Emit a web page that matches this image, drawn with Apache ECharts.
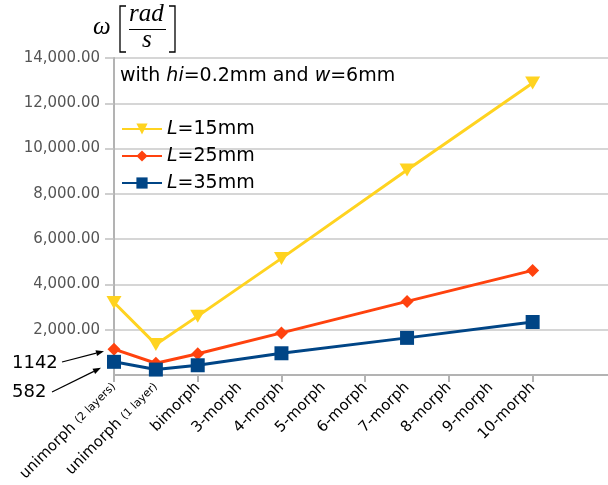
<!DOCTYPE html>
<html>
<head>
<meta charset="utf-8">
<script src="https://cdn.jsdelivr.net/npm/echarts@6/dist/echarts.min.js"></script>
<style>
  html, body { margin: 0; padding: 0; background: #ffffff; }
  #chart { width: 608px; height: 485px; }
</style>
</head>
<body>
<div id="chart"></div>
<script>
// Configurations along the x axis
const categories = [
  'unimorph (2 layers)', 'unimorph (1 layer)', 'bimorph', '3-morph', '4-morph',
  '5-morph', '6-morph', '7-morph', '8-morph', '9-morph', '10-morph'
];

// Angular frequency ω [rad/s] for each beam length (null = not computed)
const omegaL15 = [3200, 1350, 2600, null, 5150, null, null, 9050, null, null, 12900];
const omegaL25 = [1142, 520, 940, null, 1860, null, null, 3250, null, null, 4620];
const omegaL35 = [582, 240, 430, null, 960, null, null, 1640, null, null, 2340];

const seriesNames = ['L=15mm', 'L=25mm', 'L=35mm'];
const seriesColors = ['#ffd320', '#ff420e', '#004586'];

const yTicks = { min: 0, max: 14000, step: 2000 };

const chart = echarts.init(document.getElementById('chart'), null, { renderer: 'canvas' });

function fmtThousands(v) {
  const s = Math.round(v).toString().replace(/\B(?=(\d{3})+(?!\d))/g, ',');
  return s + '.00';
}

function catLabel(name) {
  const m = name.match(/^(.*?)\s(\(.*\))$/);
  if (m) return '{b|' + m[1] + ' }{s|' + m[2] + '}';
  return '{b|' + name + '}';
}

function pair(arr) {
  const out = [];
  arr.forEach((v, i) => { if (v !== null) out.push([i, v]); });
  return out;
}

// positions of the configurations on the x scale; tick marks on every other one
const labelPositions = categories.map((_, i) => i);
const tickPositions = labelPositions.filter((i) => i % 2 === 0);

const downTriangle = 'path://M0,0L10,0L5,9Z';

const option = {
  animation: false,
  backgroundColor: '#ffffff',
  grid: { left: 114, top: 58, right: 0, bottom: 110, containLabel: false },
  xAxis: {
    type: 'value',
    min: 0,
    max: 11.8,
    interval: 1,
    axisLine: { show: true, onZero: false, lineStyle: { color: '#b3b3b3', width: 2 } },
    axisTick: { show: true, customValues: tickPositions, length: 7, lineStyle: { color: '#b3b3b3', width: 2 } },
    splitLine: { show: false },
    axisLabel: {
      customValues: labelPositions,
      rotate: 45,
      margin: 10,
      formatter: (v) => (categories[v] === undefined ? '' : catLabel(categories[v])),
      rich: {
        b: { fontFamily: 'DejaVu Sans', fontSize: 15, color: '#000000' },
        s: { fontFamily: 'DejaVu Sans', fontSize: 11, color: '#000000' }
      }
    }
  },
  yAxis: {
    type: 'value',
    min: yTicks.min,
    max: yTicks.max,
    interval: yTicks.step,
    axisLine: { show: true, onZero: false, lineStyle: { color: '#b3b3b3', width: 2 } },
    axisTick: { show: true, length: 9, lineStyle: { color: '#c0c0c0', width: 1.5 } },
    splitLine: { show: true, lineStyle: { color: '#c8c8c8', width: 1.5 } },
    axisLabel: {
      margin: 14,
      showMinLabel: false,
      fontFamily: 'DejaVu Sans',
      fontSize: 15,
      color: '#555555',
      formatter: fmtThousands
    }
  },
  legend: {
    orient: 'vertical',
    left: 116,
    top: 114,
    itemWidth: 40,
    itemHeight: 14,
    itemGap: 7,
    data: seriesNames,
    formatter: (name) => '{i|L}{n|' + name.slice(1) + '}',
    textStyle: {
      lineHeight: 20,
      rich: {
        i: { fontFamily: 'DejaVu Sans', fontStyle: 'italic', fontSize: 19, color: '#000000' },
        n: { fontFamily: 'DejaVu Sans', fontSize: 19, color: '#000000' }
      }
    }
  },
  series: [
    {
      name: seriesNames[0], type: 'line', data: pair(omegaL15),
      symbol: downTriangle, symbolSize: [15, 13],
      lineStyle: { color: seriesColors[0], width: 3 },
      itemStyle: { color: seriesColors[0] }
    },
    {
      name: seriesNames[1], type: 'line', data: pair(omegaL25),
      symbol: 'diamond', symbolSize: 13,
      lineStyle: { color: seriesColors[1], width: 3 },
      itemStyle: { color: seriesColors[1] }
    },
    {
      name: seriesNames[2], type: 'line', data: pair(omegaL35),
      symbol: 'rect', symbolSize: 14,
      lineStyle: { color: seriesColors[2], width: 3 },
      itemStyle: { color: seriesColors[2] }
    }
  ]
};

chart.setOption(option);

// Arrow helper: shaft plus a filled head at (x2, y2)
function arrow(x1, y1, x2, y2) {
  const ang = Math.atan2(y2 - y1, x2 - x1);
  const L = 8, W = 3;
  const bx = x2 - L * Math.cos(ang), by = y2 - L * Math.sin(ang);
  const px = -Math.sin(ang) * W, py = Math.cos(ang) * W;
  return [
    { type: 'line', shape: { x1, y1, x2: bx, y2: by }, style: { stroke: '#000', lineWidth: 1.2 }, z: 100 },
    { type: 'polygon', shape: { points: [[x2, y2], [bx + px, by + py], [bx - px, by - py]] }, style: { fill: '#000' }, z: 100 }
  ];
}

// Annotated values pointing at the first configuration
const p25 = chart.convertToPixel({ gridIndex: 0 }, [0, omegaL25[0]]);
const p35 = chart.convertToPixel({ gridIndex: 0 }, [0, omegaL35[0]]);

const serif = '"Liberation Serif", "DejaVu Serif", serif';

chart.setOption({
  graphic: [
    // axis title: ω [rad/s]
    { type: 'text', left: 93, top: 15, style: { text: 'ω', font: 'italic 25px ' + serif, fill: '#000' } },
    { type: 'polyline', shape: { points: [[126, 6], [120, 6], [120, 52], [126, 52]] }, style: { stroke: '#000', lineWidth: 1.3, fill: null } },
    { type: 'polyline', shape: { points: [[169, 6], [175, 6], [175, 52], [169, 52]] }, style: { stroke: '#000', lineWidth: 1.3, fill: null } },
    { type: 'text', left: 129, top: 2, style: { text: 'rad', font: 'italic 25px ' + serif, fill: '#000' } },
    { type: 'line', shape: { x1: 129, y1: 29.5, x2: 166, y2: 29.5 }, style: { stroke: '#000', lineWidth: 1.2 } },
    { type: 'text', left: 142, top: 28, style: { text: 's', font: 'italic 25px ' + serif, fill: '#000' } },

    // parameter note
    {
      type: 'text', left: 120, top: 67,
      style: {
        text: '{n|with }{i|hi}{n|=0.2mm and }{i|w}{n|=6mm}',
        rich: {
          n: { fontFamily: 'DejaVu Sans', fontSize: 19, fill: '#000' },
          i: { fontFamily: 'DejaVu Sans', fontStyle: 'italic', fontSize: 19, fill: '#000' }
        }
      }
    },

    // value callouts
    { type: 'text', left: 12, top: 354, style: { text: String(omegaL25[0]), font: '18px "DejaVu Sans"', fill: '#000' } },
    { type: 'text', left: 12, top: 383, style: { text: String(omegaL35[0]), font: '18px "DejaVu Sans"', fill: '#000' } },
    ...arrow(62, 362, p25[0] - 10, p25[1] + 2),
    ...arrow(52, 392, p35[0] - 13, p35[1] + 6)
  ]
});
</script>
</body>
</html>
